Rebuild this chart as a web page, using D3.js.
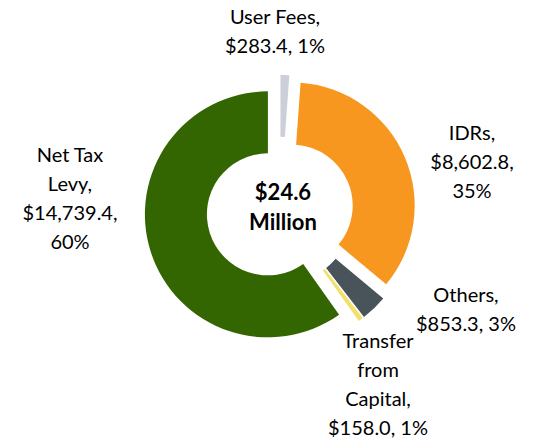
<!DOCTYPE html>
<html>
<head>
<meta charset="utf-8">
<script src="https://cdn.jsdelivr.net/npm/d3@7"></script>
<style>
body { margin: 0; background: #fff; }
text { font-family: Lato, "Liberation Sans", sans-serif; fill: #000; }
</style>
</head>
<body>
<div id="chart"></div>
<script>
// revenue sources ($ thousands), clockwise from top
var categories = ["User Fees", "IDRs", "Others", "Transfer from Capital", "Net Tax Levy"];
var values = [283.4, 8602.8, 853.3, 158.0, 14739.4];
var percents = ["1%", "35%", "3%", "1%", "60%"];
var colors = ["#cbcfd9", "#f79720", "#48535a", "#f3e06c", "#336600"];
var labelLines = [
	["User Fees,", "$283.4, 1%"],
	["IDRs,", "$8,602.8,", "35%"],
	["Others,", "$853.3, 3%"],
	["Transfer", "from", "Capital,", "$158.0, 1%"],
	["Net Tax", "Levy,", "$14,739.4,", "60%"]
];
var centerLines = ["$24.6", "Million"];

var width = 533, height = 444;
var cx = 280, cy = 210.5;
var outerR = 123, innerR = 61, explode = 12.7;

// label anchor (centre x, first baseline) for each slice
var labelPos = [[275, 24], [472, 140], [466, 302], [378, 348], [70, 162]];
var lineH = 29;

var svg = d3.select("#chart").append("svg")
	.attr("width", width)
	.attr("height", height);

var pie = d3.pie().sort(null).value(function(d) { return d; });
var arcs = pie(values);

var arc = d3.arc().innerRadius(innerR).outerRadius(outerR);

var g = svg.append("g").attr("transform", "translate(" + cx + "," + cy + ")");

g.selectAll("path")
	.data(arcs)
	.enter()
	.append("path")
	.attr("d", arc)
	.attr("fill", function(d, i) { return colors[i]; })
	.attr("transform", function(d) {
		var a = (d.startAngle + d.endAngle) / 2;
		return "translate(" + (Math.sin(a) * explode) + "," + (-Math.cos(a) * explode) + ")";
	});

var labels = svg.selectAll("text.lbl")
	.data(labelLines)
	.enter()
	.append("text")
	.attr("class", "lbl")
	.attr("text-anchor", "middle")
	.style("font-size", "20px");

labels.each(function(lines, i) {
	var t = d3.select(this);
	lines.forEach(function(s, j) {
		t.append("tspan")
			.attr("x", labelPos[i][0])
			.attr("y", labelPos[i][1] + j * lineH)
			.text(s);
	});
});

svg.append("text")
	.attr("text-anchor", "middle")
	.style("font-size", "22px")
	.style("font-weight", "bold")
	.selectAll("tspan")
	.data(centerLines)
	.enter()
	.append("tspan")
	.attr("x", 283)
	.attr("y", function(d, i) { return 200 + i * 30; })
	.text(function(d) { return d; });
</script>
</body>
</html>
